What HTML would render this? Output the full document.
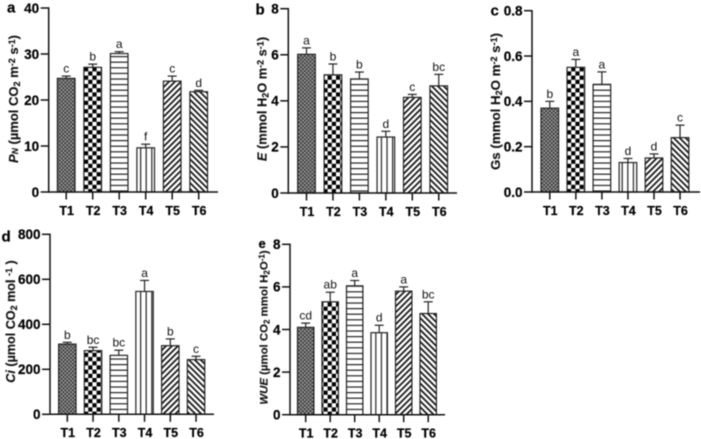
<!DOCTYPE html>
<html lang="en">
<head>
<meta charset="utf-8">
<title>Gas exchange bar charts</title>
<style>
html,body{margin:0;padding:0;background:#fff;}
#figure{display:block;width:701px;height:439px;filter:blur(0.42px);font-family:"Liberation Sans",sans-serif;}
.axis-title{font-weight:bold;fill:#111;stroke:#111;stroke-width:0.15px;}
.panel-letter{font-weight:bold;font-size:15px;fill:#000;stroke:#000;stroke-width:0.2px;}
</style>
</head>
<body>
<svg id="figure" xmlns="http://www.w3.org/2000/svg" width="701" height="439" viewBox="0 0 701 439">
  <defs>
    <pattern id="p1" width="3.8" height="3.8" patternUnits="userSpaceOnUse">
      <rect width="3.8" height="3.8" fill="#444"/>
      <rect x="0" y="0" width="1.5" height="1.5" fill="#bbb"/>
      <rect x="1.9" y="1.9" width="1.5" height="1.5" fill="#bbb"/>
    </pattern>
    <pattern id="p2" width="8.4" height="8.4" patternUnits="userSpaceOnUse">
      <rect width="8.4" height="8.4" fill="#fff"/>
      <rect x="0" y="0" width="4.2" height="4.2" fill="#000"/>
      <rect x="4.2" y="4.2" width="4.2" height="4.2" fill="#000"/>
    </pattern>
    <pattern id="p3" width="5.6" height="5.6" patternUnits="userSpaceOnUse">
      <rect width="5.6" height="5.6" fill="#fff"/>
      <rect x="0" y="0" width="5.6" height="1.2" fill="#222"/>
    </pattern>
    <pattern id="p4" width="5.6" height="5.6" patternUnits="userSpaceOnUse">
      <rect width="5.6" height="5.6" fill="#fff"/>
      <rect x="0" y="0" width="1.2" height="5.6" fill="#222"/>
    </pattern>
    <pattern id="p5" width="4.2" height="4.2" patternUnits="userSpaceOnUse" patternTransform="rotate(45)">
      <rect width="4.2" height="4.2" fill="#fff"/>
      <rect x="0" y="0" width="1.7" height="4.2" fill="#111"/>
    </pattern>
    <pattern id="p6" width="4.2" height="4.2" patternUnits="userSpaceOnUse" patternTransform="rotate(-45)">
      <rect width="4.2" height="4.2" fill="#fff"/>
      <rect x="0" y="0" width="1.7" height="4.2" fill="#111"/>
    </pattern>
  </defs>

  <g id="marks"></g>

  <text class="panel-letter" x="7" y="12.5">a</text>
  <text class="panel-letter" x="255.5" y="14.5">b</text>
  <text class="panel-letter" x="490.5" y="15.5">c</text>
  <text class="panel-letter" x="1.5" y="241.5">d</text>
  <text class="panel-letter" x="258.5" y="248" style="font-size:13px">e</text>

  <text class="axis-title" transform="translate(18,99) rotate(-90)" text-anchor="middle" font-size="13"><tspan font-style="italic">P<tspan font-size="8.5">N</tspan></tspan> (µmol CO<tspan font-size="9" dy="2">2</tspan><tspan dy="-2"> m</tspan><tspan font-size="9" dy="-3">-2</tspan><tspan dy="3"> s</tspan><tspan font-size="9" dy="-3">-1</tspan><tspan dy="3">)</tspan></text>
  <text class="axis-title" transform="translate(266.5,99) rotate(-90)" text-anchor="middle" font-size="12.8"><tspan font-style="italic">E</tspan> (mmol H<tspan font-size="9" dy="2">2</tspan><tspan dy="-2">O m</tspan><tspan font-size="9" dy="-3">-2</tspan><tspan dy="3"> s</tspan><tspan font-size="9" dy="-3">-1</tspan><tspan dy="3">)</tspan></text>
  <text class="axis-title" transform="translate(500,101.5) rotate(-90)" text-anchor="middle" font-size="13.3">Gs (mmol H<tspan font-size="9" dy="2">2</tspan><tspan dy="-2">O m</tspan><tspan font-size="9" dy="-3">-2</tspan><tspan dy="3"> s</tspan><tspan font-size="9" dy="-3">-1</tspan><tspan dy="3">)</tspan></text>
  <text class="axis-title" transform="translate(15,321.5) rotate(-90)" text-anchor="middle" font-size="12.6"><tspan font-style="italic">Ci</tspan> (µmol CO<tspan font-size="9" dy="2">2</tspan><tspan dy="-2"> mol </tspan><tspan font-size="9" dy="-3">-1</tspan><tspan dy="3"> )</tspan></text>
  <text class="axis-title" transform="translate(267.5,327.5) rotate(-90)" text-anchor="middle" font-size="11.4"><tspan font-style="italic">WUE</tspan> (µmol CO<tspan font-size="8" dy="2">2</tspan><tspan dy="-2"> mmol H</tspan><tspan font-size="8" dy="2">2</tspan><tspan dy="-2">O</tspan><tspan font-size="8" dy="-3">-1</tspan><tspan dy="3">)</tspan></text>
</svg>

<script>
const categories = ["T1", "T2", "T3", "T4", "T5", "T6"];

const pnValues = [24.7, 27.1, 30.1, 9.6, 24.1, 21.8];
const pnErrors = [0.5, 0.7, 0.4, 0.8, 1.1, 0.3];
const pnLetters = ["c", "b", "a", "f", "c", "d"];
const pnTicks = ["0", "10", "20", "30", "40"];

const eValues = [6.02, 5.13, 4.95, 2.43, 4.15, 4.65];
const eErrors = [0.28, 0.47, 0.3, 0.25, 0.13, 0.5];
const eLetters = ["a", "b", "b", "d", "c", "bc"];
const eTicks = ["0", "2", "4", "6", "8"];

const gsValues = [0.37, 0.55, 0.475, 0.13, 0.15, 0.24];
const gsErrors = [0.03, 0.035, 0.055, 0.018, 0.018, 0.055];
const gsLetters = ["b", "a", "a", "d", "d", "c"];
const gsTicks = ["0.0", "0.2", "0.4", "0.6", "0.8"];

const ciValues = [312, 283, 262, 546, 305, 243];
const ciErrors = [8, 15, 23, 49, 30, 15];
const ciLetters = ["b", "bc", "bc", "a", "b", "c"];
const ciTicks = ["0", "200", "400", "600", "800"];

const wueValues = [4.1, 5.3, 6.05, 3.85, 5.8, 4.75];
const wueErrors = [0.2, 0.45, 0.25, 0.35, 0.2, 0.55];
const wueLetters = ["cd", "ab", "a", "d", "a", "bc"];
const wueTicks = ["0", "2", "4", "6", "8"];

const fillIds = ["p1", "p2", "p3", "p4", "p5", "p6"];
const NS = "http://www.w3.org/2000/svg";
const root = document.getElementById("marks");

function make(tag, attrs, parent) {
  const node = document.createElementNS(NS, tag);
  for (const key in attrs) node.setAttribute(key, attrs[key]);
  parent.appendChild(node);
  return node;
}

function drawPanel(cfg) {
  const yScale = v => cfg.y0 - (v / cfg.yMax) * (cfg.y0 - cfg.yTop);
  const xScale = i => cfg.x1 + i * cfg.pitch;
  const group = make("g", {}, root);
  
  

  cfg.values.forEach((value, i) => {
    const cx = xScale(i);
    const top = yScale(value);
    const errTop = yScale(value + cfg.errors[i]);

    const stem = make("line", {x1: cx, x2: cx, y1: top, y2: errTop, stroke: "#222", "stroke-width": 1.2}, group);
    
    

    const cap = make("line", {x1: cx - 4.5, x2: cx + 4.5, y1: errTop, y2: errTop, stroke: "#222", "stroke-width": 1.2}, group);
    
    

    const bar = make("rect", {x: cx - cfg.barW / 2, y: top, width: cfg.barW, height: cfg.y0 - top, fill: "url(#" + fillIds[i] + ")", stroke: "#222", "stroke-width": 1.2}, group);
    
    

    const letter = make("text", {x: cx, y: errTop - 3.5, "text-anchor": "middle", "font-size": 12, fill: "#111"}, group);
    letter.textContent = cfg.letters[i];
    
    

    const tick = make("line", {x1: cx, x2: cx, y1: cfg.y0, y2: cfg.y0 + 7.5, stroke: "#111", "stroke-width": 1.5}, group);
    
    

    const label = make("text", {x: cx + 0.5, y: cfg.y0 + 22.8, "text-anchor": "middle", "font-size": 12.5, "font-weight": "bold", fill: "#000", stroke: "#000", "stroke-width": 0.2}, group);
    label.textContent = categories[i];
    
    
  });

  cfg.ticks.forEach(text => {
    const y = yScale(parseFloat(text));

    const tick = make("line", {x1: cfg.axisX - 8, x2: cfg.axisX, y1: y, y2: y, stroke: "#111", "stroke-width": 1.5}, group);
    
    

    const label = make("text", {x: cfg.axisX - 9.5, y: y + 4.8, "text-anchor": "end", "font-size": 13.5, "font-weight": "bold", fill: "#000", stroke: "#000", "stroke-width": 0.2}, group);
    label.textContent = text;
    
    
  });

  const yAxis = make("line", {x1: cfg.axisX, x2: cfg.axisX, y1: cfg.yTop - 0.7, y2: cfg.y0 + 0.7, stroke: "#111", "stroke-width": 1.5}, group);
  
  

  const xAxis = make("line", {x1: cfg.axisX, x2: cfg.xEnd, y1: cfg.y0, y2: cfg.y0, stroke: "#111", "stroke-width": 1.5}, group);
  
  
}

drawPanel({id: "pn", values: pnValues, errors: pnErrors, letters: pnLetters, ticks: pnTicks, yMax: 40,
  axisX: 48.7, xEnd: 218, yTop: 8, y0: 192, x1: 66.2, pitch: 26.5, barW: 17.6});
drawPanel({id: "e", values: eValues, errors: eErrors, letters: eLetters, ticks: eTicks, yMax: 8,
  axisX: 288.3, xEnd: 457, yTop: 8.7, y0: 193, x1: 306.5, pitch: 26.45, barW: 17.6});
drawPanel({id: "gs", values: gsValues, errors: gsErrors, letters: gsLetters, ticks: gsTicks, yMax: 0.8,
  axisX: 532, xEnd: 700, yTop: 10.7, y0: 192, x1: 549.8, pitch: 26.05, barW: 17.6});
drawPanel({id: "ci", values: ciValues, errors: ciErrors, letters: ciLetters, ticks: ciTicks, yMax: 800,
  axisX: 50, xEnd: 214, yTop: 234.3, y0: 414.3, x1: 67.3, pitch: 25.75, barW: 17.4});
drawPanel({id: "wue", values: wueValues, errors: wueErrors, letters: wueLetters, ticks: wueTicks, yMax: 8,
  axisX: 290, xEnd: 445, yTop: 244.3, y0: 414.7, x1: 305.7, pitch: 24.5, barW: 16.4});
</script>
</body>
</html>
